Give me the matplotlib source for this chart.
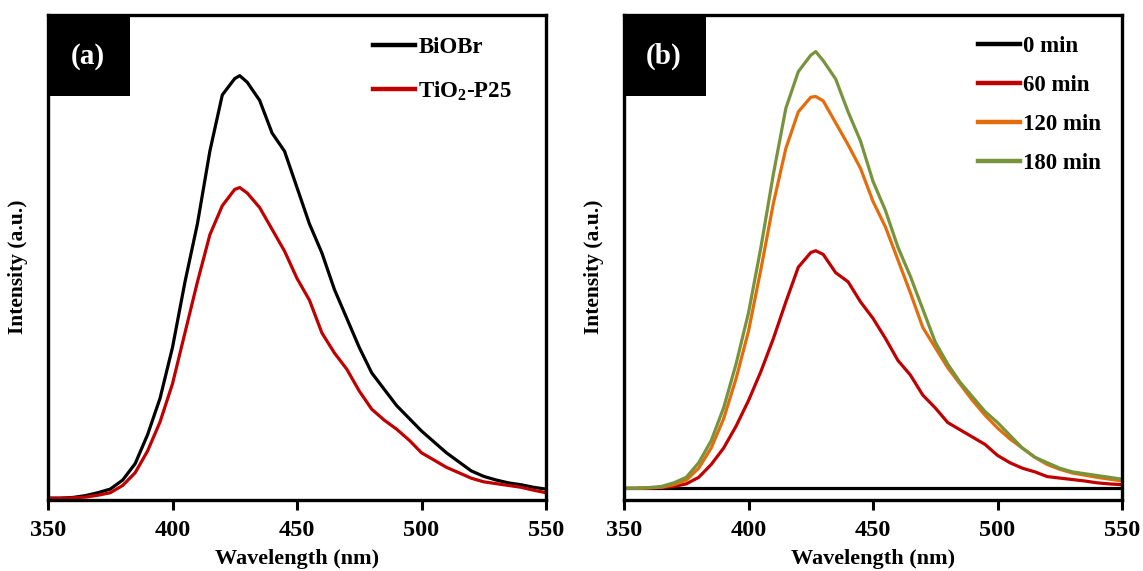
import matplotlib
matplotlib.use("Agg")
import matplotlib.pyplot as plt
import numpy as np

plt.rcParams['font.family'] = ['Liberation Serif', 'DejaVu Serif']
plt.rcParams['font.weight'] = 'bold'
plt.rcParams['mathtext.fontset'] = 'custom'
plt.rcParams['mathtext.rm'] = 'Liberation Serif:bold'
plt.rcParams['mathtext.bf'] = 'Liberation Serif:bold'
plt.rcParams['mathtext.it'] = 'Liberation Serif:bold'

# ---------------- Panel (a) data ----------------
wl_a = [350, 355, 360, 365, 370, 375, 380, 385, 390, 395, 400, 405, 410, 415, 420,
        425, 427, 430, 435, 440, 445, 450, 455, 460, 465, 470, 475, 480, 485, 490,
        495, 500, 505, 510, 515, 520, 525, 530, 535, 540, 545, 550]
biobr = [0, 0, 2, 7, 15, 25, 50, 95, 175, 275, 415, 595, 755, 955, 1110,
         1155, 1163, 1145, 1095, 1005, 955, 855, 755, 675, 575, 495, 415, 345, 300, 255,
         220, 185, 155, 125, 100, 75, 60, 50, 42, 37, 30, 25]
tio2 = [0, 0, 1, 3, 8, 15, 35, 70, 130, 210, 315, 455, 595, 725, 805,
        850, 855, 840, 800, 740, 680, 605, 545, 455, 400, 355, 295, 245, 215, 190,
        160, 125, 105, 85, 70, 55, 45, 40, 35, 30, 22, 15]

# ---------------- Panel (b) data ----------------
wl_b = [350, 355, 360, 365, 370, 375, 380, 385, 390, 395, 400, 405, 410, 415, 420,
        425, 427, 430, 435, 440, 445, 450, 455, 460, 465, 470, 475, 480, 485, 490,
        495, 500, 505, 510, 515, 520, 525, 530, 535, 540, 545, 550]
min0 = [0] * len(wl_b)
min60 = [0, 0, 1, 2, 5, 12, 30, 65, 110, 170, 240, 320, 410, 510, 605,
         645, 650, 640, 590, 565, 510, 465, 410, 350, 310, 255, 220, 180, 160, 140,
         120, 90, 70, 55, 45, 32, 28, 24, 20, 15, 12, 10]
min120 = [0, 0, 1, 3, 10, 22, 55, 110, 190, 300, 430, 600, 780, 930, 1030,
          1070, 1072, 1060, 1000, 940, 875, 785, 715, 625, 535, 440, 385, 330, 285, 240,
          200, 165, 135, 110, 85, 65, 52, 42, 36, 30, 25, 20]
min180 = [0, 0, 2, 5, 15, 30, 70, 130, 220, 340, 480, 660, 860, 1040, 1140,
          1185, 1195, 1170, 1120, 1030, 950, 840, 760, 660, 580, 490, 400, 340, 290, 250,
          210, 180, 145, 110, 85, 70, 55, 45, 40, 35, 30, 25]

labels_a = ['BiOBr', r'TiO$_{\mathbf{2}}$-P25']
labels_b = ['0 min', '60 min', '120 min', '180 min']
colors_a = ['#000000', '#C00000']
colors_b = ['#000000', '#C00000', '#E46C0A', '#77933C']
xticks = [350, 400, 450, 500, 550]

W, H = 1143, 571
fig = plt.figure(figsize=(W/100, H/100), dpi=100)
ax1 = fig.add_axes([48/W, 1-500/H, 498/W, 485/H])
ax2 = fig.add_axes([624/W, 1-500/H, 498/W, 485/H])

lw = 2.3
ax1.plot(wl_a, biobr, color=colors_a[0], lw=lw, label=labels_a[0])
ax1.plot(wl_a, tio2, color=colors_a[1], lw=lw, label=labels_a[1])
ax1.set_ylim(-5, 1330)

for s, c, l in zip([min0, min60, min120, min180], colors_b, labels_b):
    ax2.plot(wl_b, s, color=c, lw=lw, label=l)
ax2.set_ylim(-32, 1295)

for ax, tag in [(ax1, '(a)'), (ax2, '(b)')]:
    ax.set_xlim(350, 550)
    ax.set_xticks(xticks)
    ax.set_yticks([])
    ax.tick_params(axis='x', direction='out', length=7.5, width=2.2, labelsize=17.5, pad=7)
    for lab in ax.get_xticklabels():
        lab.set_fontweight('bold')
    for sp in ax.spines.values():
        sp.set_linewidth(2.4)
    ax.set_xlabel('Wavelength (nm)', fontsize=16, fontweight='bold', va='center')
    ax.xaxis.set_label_coords(0.5, (500-559)/485)
    ax.set_ylabel('Intensity (a.u.)', fontsize=15.5, fontweight='bold', va='center')
    ax.yaxis.set_label_coords((18.5-48)/498, (500-267)/485)
    ax.add_patch(plt.Rectangle((0, 1 - 81/485), 82/498, 81/485, transform=ax.transAxes,
                               facecolor='black', edgecolor='none', zorder=5))
    ax.text(40/498, 1 - 41/485, tag, transform=ax.transAxes, color='white',
            fontsize=21, fontweight='bold', ha='center', va='center', zorder=6)

fs = 16.5
leg1 = ax1.legend(loc='upper left', bbox_to_anchor=(373/W, 1-37/H),
                  bbox_transform=fig.transFigure, frameon=False,
                  fontsize=fs, handlelength=1.83, handletextpad=0.15, labelspacing=0.93,
                  borderpad=0, borderaxespad=0)
leg2 = ax2.legend(loc='upper left', bbox_to_anchor=(978/W, 1-36/H),
                  bbox_transform=fig.transFigure, frameon=False,
                  fontsize=fs, handlelength=1.83, handletextpad=0.15, labelspacing=0.79,
                  borderpad=0, borderaxespad=0)
for leg in (leg1, leg2):
    for t in leg.get_texts():
        t.set_fontweight('bold')
    for h in leg.get_lines():
        h.set_linewidth(3.2)

fig.savefig('out.png', dpi=100)
